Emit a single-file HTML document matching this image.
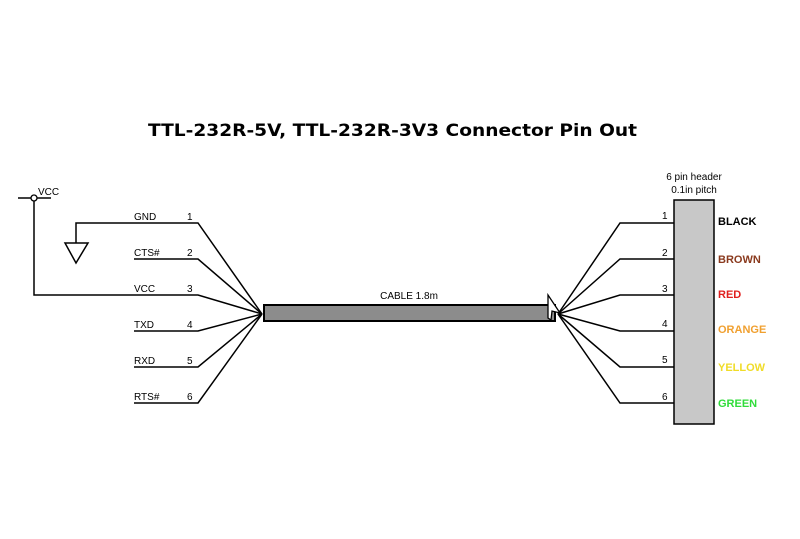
<!DOCTYPE html>
<html><head><style>
body{margin:0;background:#fff}
svg text{font-family:"Liberation Sans",Arial,sans-serif}
</style></head><body>
<svg width="800" height="534" viewBox="0 0 800 534" xmlns="http://www.w3.org/2000/svg">
<text x="148" y="136" font-size="17" font-weight="bold" style="font-family:'DejaVu Sans',sans-serif" textLength="489" lengthAdjust="spacingAndGlyphs">TTL-232R-5V,  TTL-232R-3V3 Connector Pin Out</text>
<g stroke="#000" stroke-width="1.5" fill="none">
<line x1="18" y1="198" x2="51" y2="198"/>
<polyline points="34,201 34,295 198,295 262,314"/>
<polyline points="76,243 76,223 198,223 262,314"/>
<polygon points="65,243 88,243 76,263" fill="#fff"/>
<polyline points="134,259 198,259 262,314"/>
<polyline points="134,331 198,331 262,314"/>
<polyline points="134,367 198,367 262,314"/>
<polyline points="134,403 198,403 262,314"/>
<polyline points="674,223 620,223 558,314"/>
<polyline points="674,259 620,259 558,314"/>
<polyline points="674,295 620,295 558,314"/>
<polyline points="674,331 620,331 558,314"/>
<polyline points="674,367 620,367 558,314"/>
<polyline points="674,403 620,403 558,314"/>
</g>
<circle cx="34" cy="198" r="3" fill="#fff" stroke="#000" stroke-width="1.3"/>
<rect x="264" y="305" width="291" height="16" fill="#8c8c8c" stroke="#000" stroke-width="2"/>
<polygon points="548,295 560,313 552,311 551,320 548,318" fill="#fff" stroke="#000" stroke-width="1.3"/>
<rect x="674" y="200" width="40" height="224" fill="#c8c8c8" stroke="#000" stroke-width="1.5"/>
<g font-size="10">
<text x="38" y="195">VCC</text>
<text x="134" y="220">GND</text><text x="187" y="220">1</text>
<text x="134" y="256">CTS#</text><text x="187" y="256">2</text>
<text x="134" y="292">VCC</text><text x="187" y="292">3</text>
<text x="134" y="328">TXD</text><text x="187" y="328">4</text>
<text x="134" y="364">RXD</text><text x="187" y="364">5</text>
<text x="134" y="400">RTS#</text><text x="187" y="400">6</text>
<text x="409" y="299" text-anchor="middle">CABLE 1.8m</text>
<text x="694" y="180" text-anchor="middle">6 pin header</text>
<text x="694" y="193" text-anchor="middle">0.1in pitch</text>
<text x="662" y="219">1</text><text x="662" y="256">2</text><text x="662" y="292">3</text>
<text x="662" y="327">4</text><text x="662" y="363">5</text><text x="662" y="400">6</text>
</g>
<g font-size="11" font-weight="bold">
<text x="718" y="225" fill="#000">BLACK</text>
<text x="718" y="263" fill="#8a3a1e">BROWN</text>
<text x="718" y="298" fill="#e0201e">RED</text>
<text x="718" y="333" fill="#f0a030">ORANGE</text>
<text x="718" y="371" fill="#f0dc28">YELLOW</text>
<text x="718" y="407" fill="#30dc3a">GREEN</text>
</g>
</svg>
</body></html>
